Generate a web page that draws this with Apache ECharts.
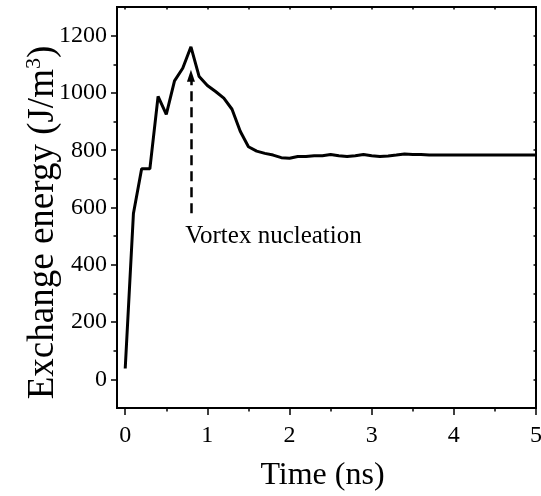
<!DOCTYPE html>
<html>
<head>
<meta charset="utf-8">
<script src="https://cdn.jsdelivr.net/npm/echarts@6/dist/echarts.min.js"></script>
<style>
html,body{margin:0;padding:0;background:#fff;}
#chart{width:541px;height:496px;}
</style>
</head>
<body>
<div id="chart"></div>
<script>
// ---- data ----
var timeNs = [0,0.1,0.2,0.3,0.4,0.5,0.6,0.7,0.8,0.9,1.0,1.1,1.2,1.3,1.4,1.5,1.6,1.7,1.8,1.9,
  2.0,2.1,2.2,2.3,2.4,2.5,2.6,2.7,2.8,2.9,3.0,3.1,3.2,3.3,3.4,3.5,3.6,3.7,3.8,3.9,
  4.0,4.1,4.2,4.3,4.4,4.5,4.6,4.7,4.8,4.9,5.0];
var exchangeEnergy = [38,579,735,735,988,925,1042,1086,1161,1057,1026,1005,982,943,866,812,797,789,783,774,
  772,778,778,781,781,785,781,778,781,785,781,778,780,783,787,785,785,783,783,783,
  783,783,783,783,783,783,783,783,783,783,783];
var xTicks = [0,1,2,3,4,5];
var yTicks = [0,200,400,600,800,1000,1200];
var topTicks = [0,0.5,1,1.5,2,2.5,3,3.5,4,4.5,5];
var rightTicks = [0,100,200,300,400,500,600,700,800,900,1000,1100,1200];
var xRange = [-0.1, 5];
var yRange = [-100, 1300];
var arrowX = 0.8, arrowFrom = 580, arrowTo = 1060;
var noteX = 0.73, noteY = 500, noteText = 'Vortex nucleation';

// ---- chart ----
var FONT = "'Liberation Serif','Times New Roman',serif";
var chart = echarts.init(document.getElementById('chart'), null, {renderer:'canvas'});
var lineData = timeNs.map(function(t,i){return [t, exchangeEnergy[i]];});
var hidden = {show:false};
var noLine = {show:false, onZero:false};
var tickStyle = {color:'#000', width:1.5};
function plain(v){ return String(v); }

chart.setOption({
  animation:false,
  backgroundColor:'#fff',
  grid:[{left:117, right:5, top:7, bottom:88, show:true, borderColor:'#000', borderWidth:2,
         backgroundColor:'transparent', containLabel:false, outerBoundsMode:'none'}],
  xAxis:[
    {type:'value', position:'bottom', min:xRange[0], max:xRange[1], splitNumber:5,
     axisLine:noLine, splitLine:hidden,
     axisTick:{show:true, length:7, customValues:xTicks, lineStyle:tickStyle},
     minorTick:{show:true, splitNumber:2, length:3.5, lineStyle:tickStyle},
     axisLabel:{show:true, customValues:xTicks, formatter:plain, margin:16, fontFamily:FONT, fontSize:24, color:'#000'},
     name:'Time (ns)', nameLocation:'middle', nameGap:52,
     nameTextStyle:{fontFamily:FONT, fontSize:32, color:'#000', padding:[0,8,0,0]}},
    {type:'value', position:'top', min:xRange[0], max:xRange[1],
     axisLine:noLine, splitLine:hidden, axisLabel:hidden,
     axisTick:{show:true, inside:true, length:2.5, customValues:topTicks, lineStyle:tickStyle}}
  ],
  yAxis:[
    {type:'value', position:'left', min:yRange[0], max:yRange[1], splitNumber:7,
     axisLine:noLine, splitLine:hidden,
     axisTick:{show:true, length:6, customValues:yTicks, lineStyle:tickStyle},
     minorTick:{show:true, splitNumber:2, length:3.5, lineStyle:tickStyle},
     axisLabel:{show:true, customValues:yTicks, formatter:plain, margin:10, fontFamily:FONT, fontSize:24, color:'#000'},
     name:'{a|Exchange energy (J/m}{s|3}{a|)}', nameLocation:'middle', nameGap:54, nameMoveOverlap:false,
     nameTextStyle:{fontFamily:FONT, fontSize:37, color:'#000', padding:[0,30,0,0],
       rich:{a:{fontFamily:FONT, fontSize:37, color:'#000', lineHeight:40},
             s:{fontFamily:FONT, fontSize:22, color:'#000', verticalAlign:'top', lineHeight:40}}}},
    {type:'value', position:'right', min:yRange[0], max:yRange[1],
     axisLine:noLine, splitLine:hidden, axisLabel:hidden,
     axisTick:{show:true, inside:true, length:2.5, customValues:rightTicks, lineStyle:tickStyle}}
  ],
  series:[
    {type:'line', xAxisIndex:0, yAxisIndex:0, data:lineData, showSymbol:false, symbol:'none',
     lineStyle:{color:'#000', width:3}, silent:true, z:3},
    {type:'line', xAxisIndex:0, yAxisIndex:0, data:[], silent:true,
     markLine:{silent:true, symbol:['none','triangle'], symbolSize:[8,12], label:{show:false},
       lineStyle:{color:'#000', width:2.5, type:[10,6]},
       emphasis:{disabled:true},
       data:[[{coord:[arrowX, arrowFrom]},{coord:[arrowX, arrowTo]}]]}},
    {type:'scatter', xAxisIndex:0, yAxisIndex:0, data:[[noteX, noteY]], symbolSize:0, silent:true,
     itemStyle:{opacity:1},
     label:{show:true, position:'right', distance:0, formatter:noteText, fontFamily:FONT, fontSize:25,
       color:'#000', opacity:1, textBorderWidth:0}}
  ]
});
</script>
</body>
</html>
